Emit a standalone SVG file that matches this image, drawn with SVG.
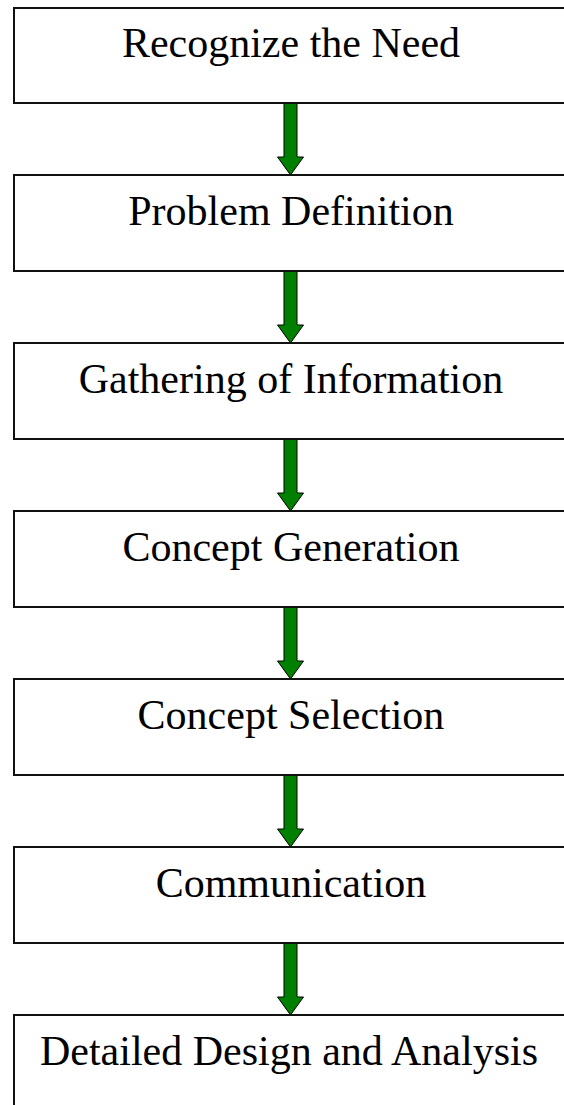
<svg xmlns="http://www.w3.org/2000/svg" width="564" height="1105" viewBox="0 0 564 1105">
  <defs>
    <style>
      .box { fill: #ffffff; stroke: #111111; stroke-width: 2; }
      .label { font-family: "Liberation Serif", "Times New Roman", serif; font-size: 42px; fill: #000000; text-anchor: middle; }
      .arrow { fill: #008000; stroke: #000000; stroke-width: 1; stroke-linejoin: miter; }
    </style>
  </defs>
  <rect width="564" height="1105" fill="#ffffff"/>

  <g id="connectors">
    <path class="arrow" d="M284,103 H297 V157 H303.5 L290.5,175 L277.5,157 H284 Z"/>
    <path class="arrow" d="M284,271 H297 V325 H303.5 L290.5,343 L277.5,325 H284 Z"/>
    <path class="arrow" d="M284,439 H297 V493 H303.5 L290.5,511 L277.5,493 H284 Z"/>
    <path class="arrow" d="M284,607 H297 V661 H303.5 L290.5,679 L277.5,661 H284 Z"/>
    <path class="arrow" d="M284,775 H297 V829 H303.5 L290.5,847 L277.5,829 H284 Z"/>
    <path class="arrow" d="M284,943 H297 V997 H303.5 L290.5,1015 L277.5,997 H284 Z"/>
  </g>

  <g id="recognize-need">
    <rect class="box" x="14" y="8" width="600" height="95"/>
    <text class="label" x="291" y="57">Recognize the Need</text>
  </g>
  <g id="problem-definition">
    <rect class="box" x="14" y="175" width="600" height="96"/>
    <text class="label" x="291" y="225">Problem Definition</text>
  </g>
  <g id="gathering-information">
    <rect class="box" x="14" y="343" width="600" height="96"/>
    <text class="label" x="291" y="393">Gathering of Information</text>
  </g>
  <g id="concept-generation">
    <rect class="box" x="14" y="511" width="600" height="96"/>
    <text class="label" x="291" y="561">Concept Generation</text>
  </g>
  <g id="concept-selection">
    <rect class="box" x="14" y="679" width="600" height="96"/>
    <text class="label" x="291" y="729">Concept Selection</text>
  </g>
  <g id="communication">
    <rect class="box" x="14" y="847" width="600" height="96"/>
    <text class="label" x="291" y="897">Communication</text>
  </g>
  <g id="detailed-design">
    <rect class="box" x="14" y="1015" width="600" height="120"/>
    <text class="label" x="289" y="1065">Detailed Design and Analysis</text>
  </g>
</svg>
